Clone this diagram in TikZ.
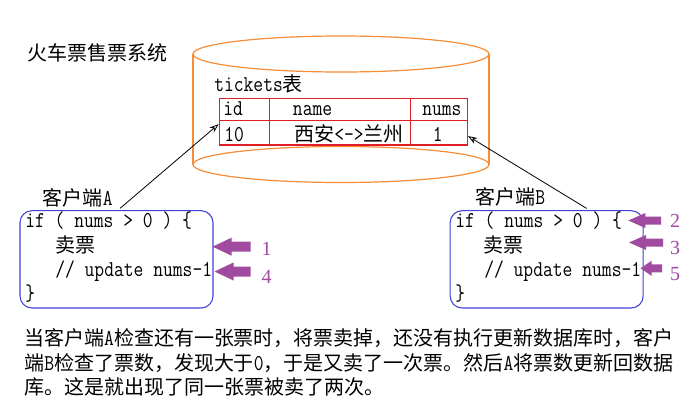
\documentclass[tikz,border=0pt]{standalone}
\usepackage{fontspec}
\usetikzlibrary{arrows.meta,calc}
\setmonofont[FakeStretch=0.84]{Latin Modern Mono}
\newfontfamily\cjkfont[Scale=0.882]{Noto Sans CJK SC}
\newfontfamily\numfont{Liberation Serif}
\newcommand\zhtxt[1]{{\cjkfont #1}}
\definecolor{cylorange}{RGB}{245,140,55}
\definecolor{tabred}{RGB}{225,30,40}
\definecolor{boxblue}{RGB}{65,65,215}
\definecolor{arrpurple}{RGB}{160,75,160}
\newcommand\purparrow[6]{%
  \fill[arrpurple] (#1,#2) -- (#1+#4,#2-#5) -- (#1+#4,#2-#6) -- (#3,#2-#6) -- (#3,#2+#6) -- (#1+#4,#2+#6) -- (#1+#4,#2+#5) -- cycle;}
\begin{document}
\begin{tikzpicture}[x=0.75pt,y=-0.75pt,
  txt/.style={inner sep=0pt, anchor=base west, font=\fontsize{17pt}{20pt}\selectfont\ttfamily},
  num/.style={inner sep=0pt, anchor=base, text=arrpurple, font=\fontsize{15pt}{18pt}\selectfont\numfont},
  cell/.style={draw=tabred, line width=0.9pt, inner sep=0pt},
  cbox/.style={draw=boxblue, line width=0.8pt, rounded corners=9pt, inner sep=0pt,
    minimum width=144.75pt, minimum height=73pt},
  conn/.style={line width=0.6pt, -{Stealth[open,length=7pt,width=5pt]}},
  cyl/.style={draw=cylorange, line width=0.9pt}]
\useasboundingbox (0,0) rectangle (698,411);
% title
\node[txt] (title) at (27,60) {\zhtxt{火车票售票系统}};
% cylinder
\draw[cyl] (341,54) ellipse [x radius=148, y radius=18];
\draw[cyl] (341,164.5) ellipse [x radius=148, y radius=18];
\draw[cyl] (193,54) -- (193,164.5);
\draw[cyl] (489,54) -- (489,164.5);
% table
\node[txt] (tname) at (214,91) {tickets\zhtxt{表}};
\node[cell, minimum width=37.5pt, minimum height=16.8pt] (hid) at (244.3,109.5) {};
\node[cell, minimum width=106pt, minimum height=16.8pt] (hname) at (340,109.5) {};
\node[cell, minimum width=42.5pt, minimum height=16.8pt] (hnums) at (439,109.5) {};
\node[cell, minimum width=37.5pt, minimum height=18.2pt] (c10) at (244.3,132.85) {};
\node[cell, minimum width=106pt, minimum height=18.2pt] (cname) at (340,132.85) {};
\node[cell, minimum width=42.5pt, minimum height=18.2pt] (c1) at (439,132.85) {};
\node[txt] (tid) at (223,115.7) {id};
\node[txt] (tnm) at (292.7,115.7) {name};
\node[txt] (tns) at (422,115.7) {nums};
\node[txt] (t10) at (224,141) {10};
\node[txt] (tcity) at (294,141) {\zhtxt{西安}<->\zhtxt{兰州}};
\node[txt] (tone) at (432.5,141) {1};
% client A
\node[txt] (labA) at (42.7,205.5) {\zhtxt{客户端}A};
\node[cbox] (boxA) at (116.5,259.35) {};
\node[txt] (ifA) at (25,227.7) {if ( nums > 0 ) \{};
\node[txt] (sellA) at (55,252.5) {\zhtxt{卖票}};
\node[txt] (updA) at (55,276.7) {// update nums-1};
\node[txt] (endA) at (25,300) {\}};
% client B
\node[txt] (labB) at (475,204.5) {\zhtxt{客户端}B};
\node[cbox] (boxB) at (546.65,259.35) {};
\node[txt] (ifB) at (455,227.7) {if ( nums > 0 ) \{};
\node[txt] (sellB) at (483,252.5) {\zhtxt{卖票}};
\node[txt] (updB) at (484,276.7) {// update nums-1};
\node[txt] (endB) at (455,300) {\}};
% connectors
\draw[conn] ([xshift=2.6pt,yshift=1.3pt]boxA.north) -- ([yshift=-3pt]c10.north west);
\draw[conn] ([xshift=30pt,yshift=1.3pt]boxB.north) -- ([yshift=-2.4pt]c1.east);
% purple arrows
\purparrow{212.5}{246.7}{250.5}{19}{9}{5}
\purparrow{214.5}{271.5}{250.5}{19}{9}{5}
\purparrow{628.3}{220.5}{661}{17}{7.5}{4}
\purparrow{629}{242.5}{663}{17}{7.5}{4}
\purparrow{640.5}{268.3}{662}{11}{7.5}{4}
\node[num] (n1) at (266.5,255.3) {1};
\node[num] (n4) at (266.5,283.7) {4};
\node[num] (n2) at (675,227) {2};
\node[num] (n3) at (675,254.7) {3};
\node[num] (n5) at (675,280.3) {5};
% bottom text
\node[txt] (l1) at (24,345) {\zhtxt{当客户端}A\zhtxt{检查还有一张票时，将票卖掉，还没有执行更新数据库时，客户}};
\node[txt] (l2) at (24,370) {\zhtxt{端}B\zhtxt{检查了票数，发现大于}0\zhtxt{，于是又卖了一次票。然后}A\zhtxt{将票数更新回数据}};
\node[txt] (l3) at (24,394.5) {\zhtxt{库。这是就出现了同一张票被卖了两次。}};
\end{tikzpicture}
\end{document}
